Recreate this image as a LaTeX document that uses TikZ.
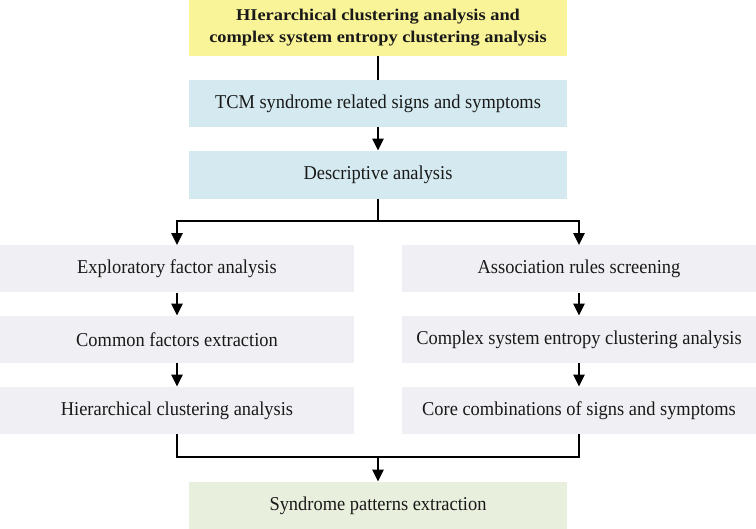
\documentclass[tikz,border=0pt]{standalone}
\usepackage{fontspec}
\setmainfont{Liberation Serif}
\usepackage{xcolor}
\usepackage{tikz}
\usetikzlibrary{arrows.meta,positioning}
\tikzset{>={Triangle[length=6pt,width=5.6pt]}}

\definecolor{topyellow}{RGB}{250,244,152}
\definecolor{stepblue}{RGB}{212,234,240}
\definecolor{sidegray}{RGB}{240,239,243}
\definecolor{endgreen}{RGB}{233,239,221}

\begin{document}
\begin{tikzpicture}[x=0.5pt,y=-0.5pt,
                    box/.style={inner sep=0pt, text=black!90,
                                font=\addfontfeature{FakeStretch=0.94}\fontsize{9.8}{11}\selectfont},
                    wide/.style={box, minimum width=189pt, minimum height=23.5pt},
                    half/.style={box, fill=sidegray, minimum width=177pt, minimum height=23.5pt},
                    link/.style={line width=1pt, black},
                    flow/.style={line width=1pt, black, ->},
                   ]

\useasboundingbox (0,0) rectangle (756,529);

% central column
\node[wide, fill=topyellow, minimum height=28pt, align=center,
      font=\addfontfeature{FakeStretch=1.12}\fontsize{8.2}{11}\selectfont\bfseries] (hier) at (378,28)
      {HIerarchical clustering analysis and\\complex system entropy clustering analysis};
\node[wide, fill=stepblue] (tcm) at (378,103.5) {TCM syndrome related signs and symptoms};
\node[wide, fill=stepblue, minimum height=24pt] (desc) at (378,175) {Descriptive analysis};

% left branch
\node[half] (efa) at (177,269) {Exploratory factor analysis};
\node[half] (cfe) at (177,339.5) {Common factors extraction};
\node[half] (hca) at (177,410.5) {Hierarchical clustering analysis};

% right branch
\node[half] (ars) at (579,269) {Association rules screening};
\node[half] (cse) at (579,339.5) {Complex system entropy clustering analysis};
\node[half] (ccs) at (579,410.5) {Core combinations of signs and symptoms};

\node[wide, fill=endgreen] (spe) at (378,505.5) {Syndrome patterns extraction};

\draw[link] (hier) -- (tcm);
\draw[flow] (tcm) -- (desc);

\draw[link] (desc.south) -- ++(0,22) coordinate (split);
\draw[flow] (split) -| (efa);
\draw[flow] (split) -| (ars);

\draw[flow] (efa) -- (cfe);
\draw[flow] (cfe) -- (hca);
\draw[flow] (ars) -- (cse);
\draw[flow] (cse) -- (ccs);

\coordinate (merge) at (378,457);
\draw[link] (hca) |- (merge);
\draw[link] (ccs) |- (merge);
\draw[flow] (merge) -- (spe);

\end{tikzpicture}
\end{document}
